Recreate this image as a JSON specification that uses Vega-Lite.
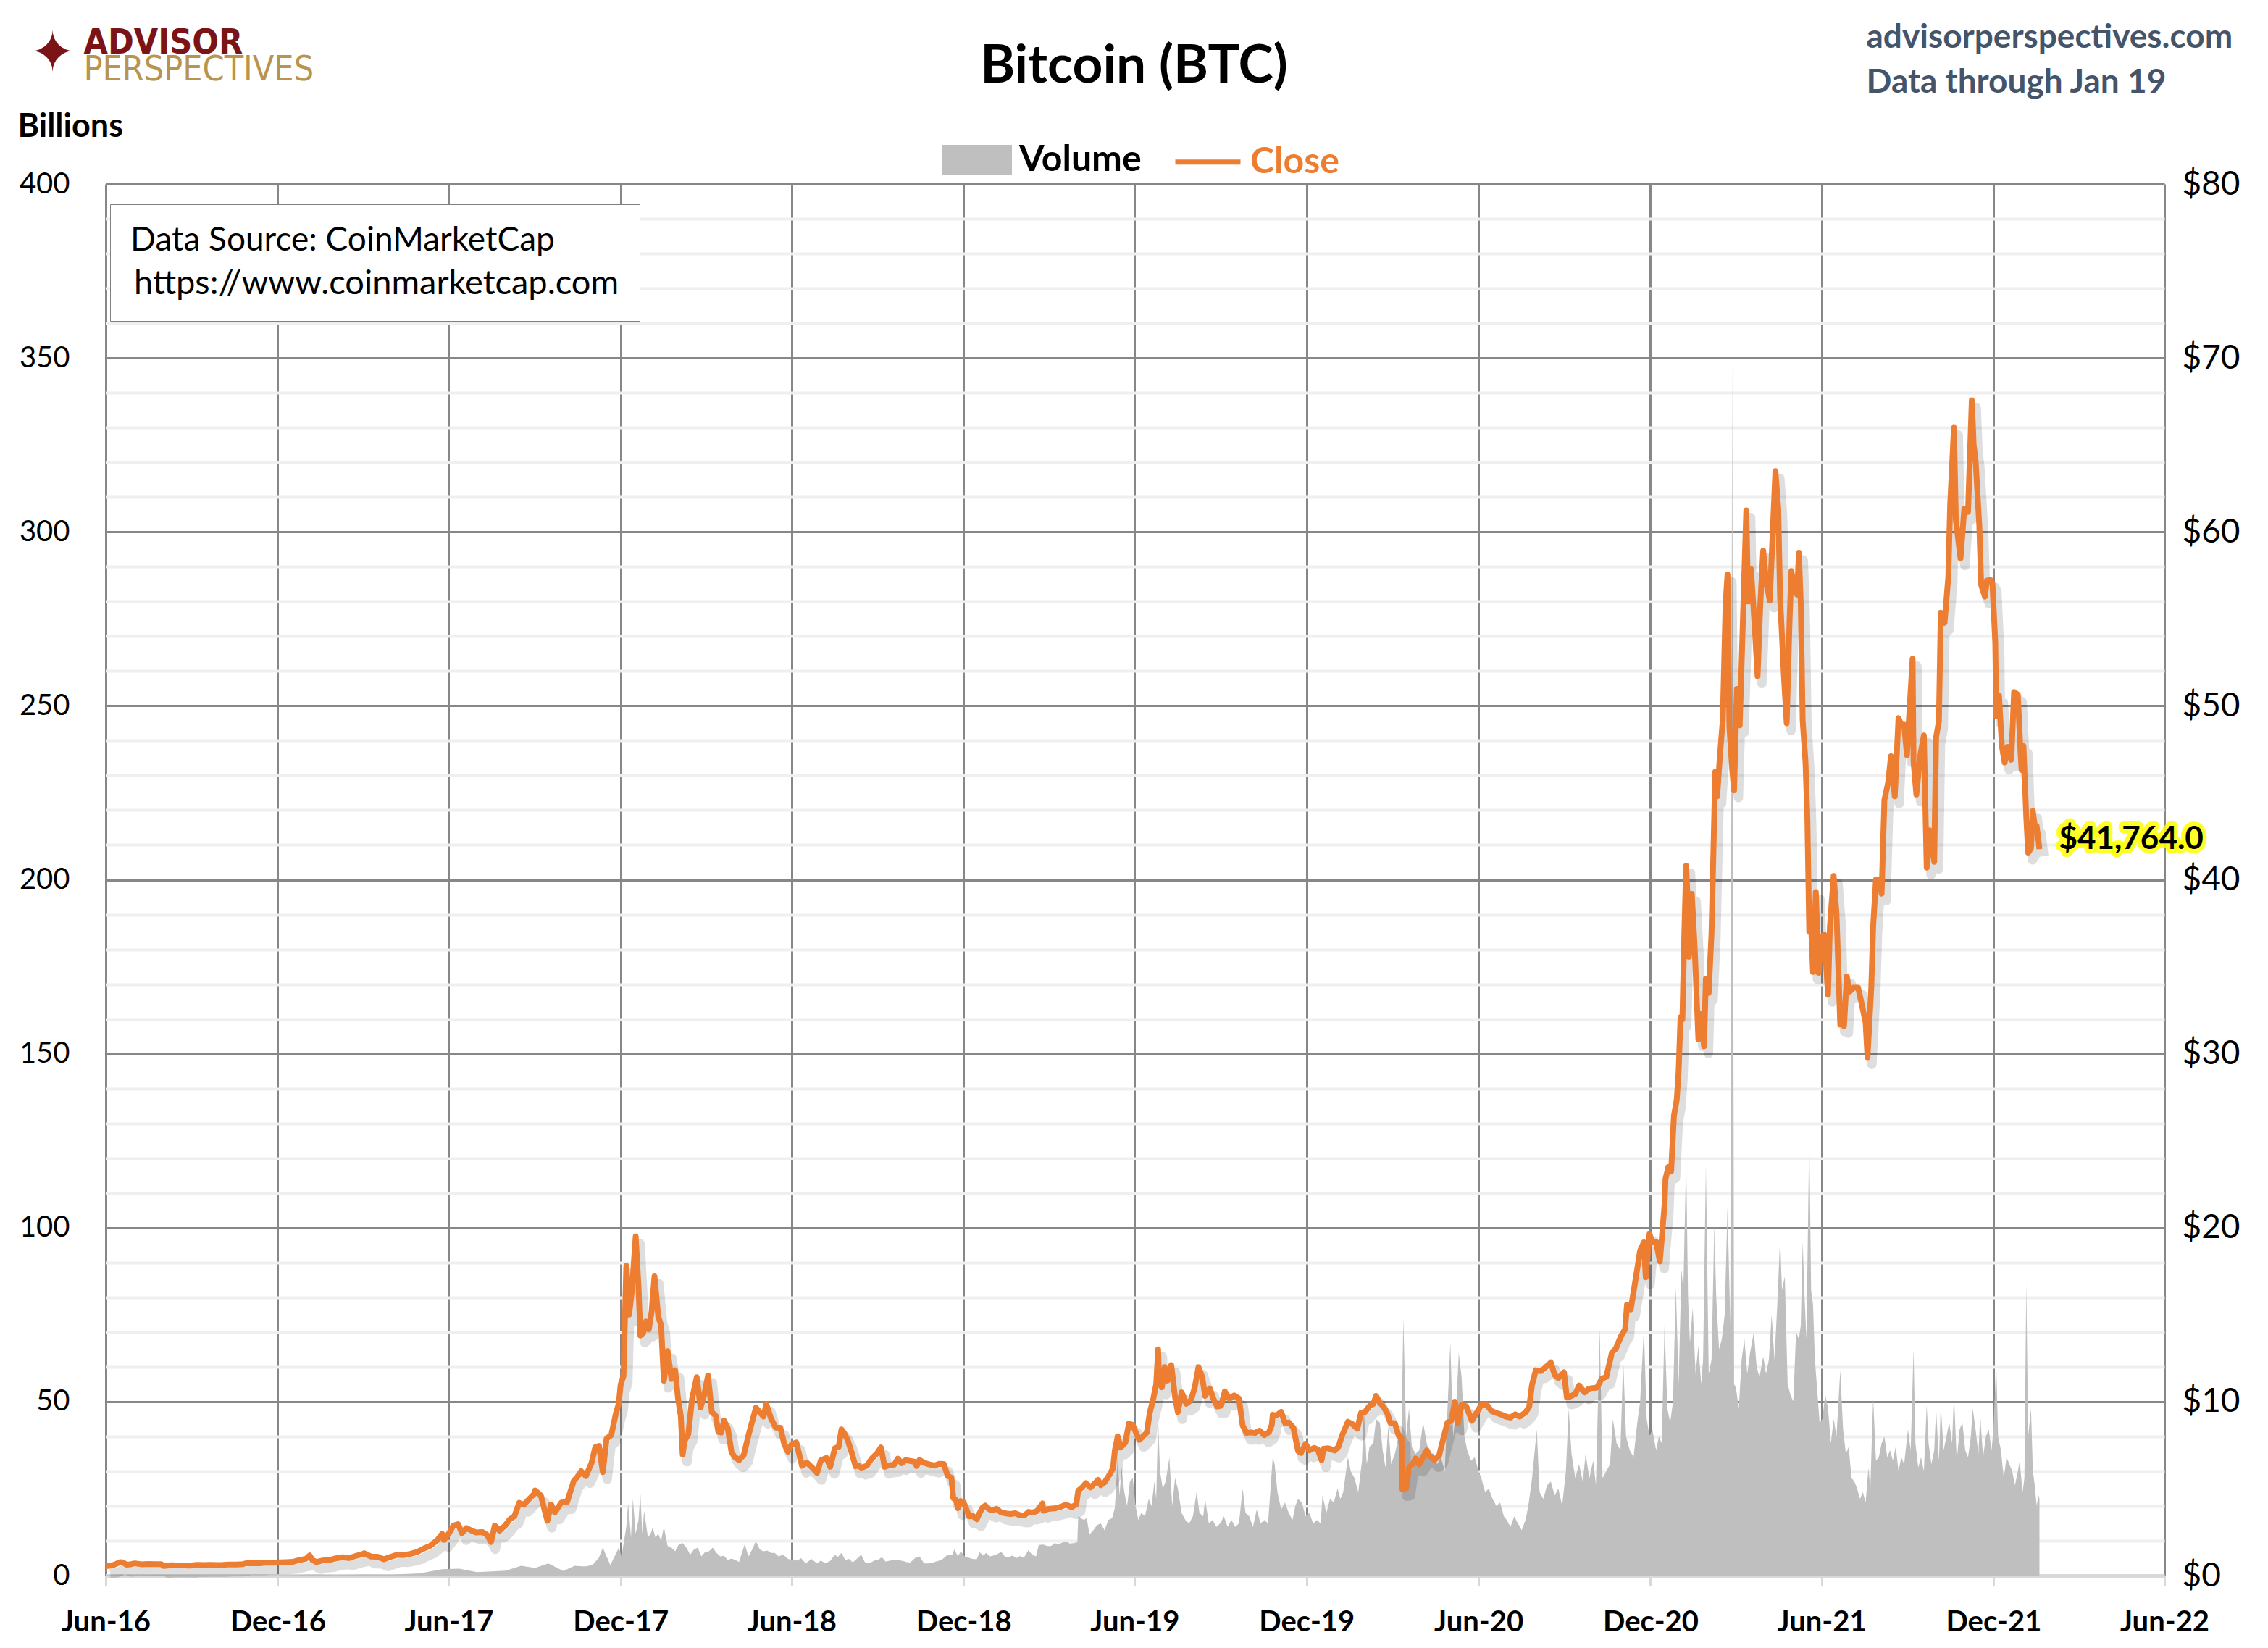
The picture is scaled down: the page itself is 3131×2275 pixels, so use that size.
{
"$schema": "https://vega.github.io/schema/vega-lite/v6.json",
"width": 2842,
"height": 1921,
"autosize": {"type": "none"},
"padding": {"left": 146, "top": 254, "right": 143, "bottom": 100},
"background": "white",
"config": {"view": {"stroke": null}, "axis": {"labelFont": "Lato", "titleFont": "Lato"}, "legend": {"labelFont": "Lato", "titleFont": "Lato"}},
"datasets": {
"close": [
{"d":"2016/06/01","c":536},{"d":"2016/06/08","c":581},{"d":"2016/06/12","c":670},{"d":"2016/06/16","c":766},{"d":"2016/06/19","c":764},{"d":"2016/06/23","c":624},{"d":"2016/06/27","c":647},{"d":"2016/07/02","c":703},{"d":"2016/07/09","c":650},{"d":"2016/07/16","c":664},{"d":"2016/07/23","c":655},{"d":"2016/07/30","c":655},{"d":"2016/08/02","c":547},{"d":"2016/08/09","c":591},{"d":"2016/08/16","c":581},{"d":"2016/08/23","c":582},{"d":"2016/08/30","c":576},{"d":"2016/09/06","c":610},{"d":"2016/09/13","c":608},{"d":"2016/09/20","c":610},{"d":"2016/09/27","c":606},{"d":"2016/10/04","c":610},{"d":"2016/10/11","c":640},{"d":"2016/10/18","c":637},{"d":"2016/10/25","c":657},{"d":"2016/10/29","c":715},{"d":"2016/11/05","c":703},{"d":"2016/11/12","c":705},{"d":"2016/11/19","c":750},{"d":"2016/11/26","c":736},{"d":"2016/12/03","c":765},{"d":"2016/12/10","c":774},{"d":"2016/12/17","c":790},{"d":"2016/12/24","c":890},{"d":"2016/12/31","c":963},
{"d":"2017/01/04","c":1154},{"d":"2017/01/07","c":895},{"d":"2017/01/11","c":778},{"d":"2017/01/18","c":868},{"d":"2017/01/25","c":894},{"d":"2017/02/01","c":989},{"d":"2017/02/08","c":1052},{"d":"2017/02/15","c":1010},{"d":"2017/02/22","c":1126},{"d":"2017/03/01","c":1222},{"d":"2017/03/03","c":1285},{"d":"2017/03/10","c":1098},{"d":"2017/03/17","c":1087},{"d":"2017/03/24","c":937},{"d":"2017/03/31","c":1071},{"d":"2017/04/07","c":1193},{"d":"2017/04/14","c":1180},{"d":"2017/04/21","c":1244},{"d":"2017/04/28","c":1345},{"d":"2017/05/05","c":1540},{"d":"2017/05/12","c":1700},{"d":"2017/05/20","c":2040},{"d":"2017/05/25","c":2400},{"d":"2017/05/27","c":2052},{"d":"2017/06/01","c":2407},{"d":"2017/06/06","c":2870},{"d":"2017/06/11","c":2958},{"d":"2017/06/15","c":2443},{"d":"2017/06/20","c":2730},{"d":"2017/06/25","c":2590},{"d":"2017/06/30","c":2480},{"d":"2017/07/07","c":2500},{"d":"2017/07/12","c":2330},{"d":"2017/07/16","c":1930},{"d":"2017/07/20","c":2870},{"d":"2017/07/25","c":2585},{"d":"2017/07/31","c":2875},{"d":"2017/08/05","c":3230},{"d":"2017/08/10","c":3420},{"d":"2017/08/15","c":4180},{"d":"2017/08/20","c":4070},{"d":"2017/08/25","c":4360},{"d":"2017/08/31","c":4700},{"d":"2017/09/01","c":4890},{"d":"2017/09/07","c":4600},{"d":"2017/09/14","c":3155},{"d":"2017/09/18","c":4090},{"d":"2017/09/22","c":3630},{"d":"2017/09/29","c":4200},{"d":"2017/10/05","c":4230},{"d":"2017/10/12","c":5430},{"d":"2017/10/16","c":5680},{"d":"2017/10/20","c":6000},{"d":"2017/10/25","c":5720},{"d":"2017/10/31","c":6470},{"d":"2017/11/04","c":7380},{"d":"2017/11/08","c":7450},{"d":"2017/11/12","c":5950},{"d":"2017/11/16","c":7870},{"d":"2017/11/21","c":8080},{"d":"2017/11/26","c":9330},{"d":"2017/11/29","c":9890},{"d":"2017/12/01","c":10980},{"d":"2017/12/04","c":11470},{"d":"2017/12/07","c":17800},{"d":"2017/12/10","c":15000},{"d":"2017/12/13","c":16400},{"d":"2017/12/17","c":19500},{"d":"2017/12/20","c":16600},{"d":"2017/12/22","c":13800},{"d":"2017/12/25","c":13950},{"d":"2017/12/28","c":14600},{"d":"2017/12/31","c":14150},
{"d":"2018/01/03","c":15200},{"d":"2018/01/06","c":17200},{"d":"2018/01/10","c":14900},{"d":"2018/01/13","c":14400},{"d":"2018/01/16","c":11200},{"d":"2018/01/20","c":12900},{"d":"2018/01/24","c":11300},{"d":"2018/01/28","c":11800},{"d":"2018/01/31","c":10200},{"d":"2018/02/03","c":9170},{"d":"2018/02/05","c":6960},{"d":"2018/02/07","c":7750},{"d":"2018/02/11","c":8130},{"d":"2018/02/15","c":10170},{"d":"2018/02/20","c":11400},{"d":"2018/02/24","c":9660},{"d":"2018/02/28","c":10400},{"d":"2018/03/04","c":11500},{"d":"2018/03/08","c":9400},{"d":"2018/03/12","c":9200},{"d":"2018/03/15","c":8250},{"d":"2018/03/18","c":8220},{"d":"2018/03/21","c":8910},{"d":"2018/03/25","c":8470},{"d":"2018/03/29","c":7100},{"d":"2018/04/01","c":6840},{"d":"2018/04/06","c":6630},{"d":"2018/04/11","c":6930},{"d":"2018/04/16","c":8060},{"d":"2018/04/20","c":8860},{"d":"2018/04/24","c":9650},{"d":"2018/04/28","c":9400},{"d":"2018/05/02","c":9140},{"d":"2018/05/05","c":9860},{"d":"2018/05/10","c":9030},{"d":"2018/05/15","c":8510},{"d":"2018/05/20","c":8500},{"d":"2018/05/24","c":7580},{"d":"2018/05/28","c":7120},{"d":"2018/06/01","c":7540},{"d":"2018/06/06","c":7650},{"d":"2018/06/12","c":6310},{"d":"2018/06/17","c":6500},{"d":"2018/06/24","c":6150},{"d":"2018/06/28","c":5900},{"d":"2018/07/02","c":6620},{"d":"2018/07/08","c":6760},{"d":"2018/07/12","c":6250},{"d":"2018/07/17","c":7320},{"d":"2018/07/21","c":7400},{"d":"2018/07/24","c":8400},{"d":"2018/07/27","c":8190},{"d":"2018/07/31","c":7730},{"d":"2018/08/04","c":7040},{"d":"2018/08/08","c":6280},{"d":"2018/08/11","c":6320},{"d":"2018/08/14","c":6200},{"d":"2018/08/20","c":6310},{"d":"2018/08/25","c":6710},{"d":"2018/08/31","c":7040},{"d":"2018/09/04","c":7360},{"d":"2018/09/08","c":6250},{"d":"2018/09/12","c":6330},{"d":"2018/09/18","c":6360},{"d":"2018/09/22","c":6720},{"d":"2018/09/26","c":6460},{"d":"2018/09/30","c":6630},{"d":"2018/10/05","c":6590},{"d":"2018/10/10","c":6540},{"d":"2018/10/12","c":6300},{"d":"2018/10/15","c":6650},{"d":"2018/10/20","c":6480},{"d":"2018/10/25","c":6400},{"d":"2018/10/31","c":6320},{"d":"2018/11/05","c":6420},{"d":"2018/11/10","c":6410},{"d":"2018/11/14","c":5740},{"d":"2018/11/18","c":5620},{"d":"2018/11/20","c":4450},{"d":"2018/11/23","c":4330},{"d":"2018/11/25","c":3880},{"d":"2018/11/28","c":4280},{"d":"2018/12/01","c":4220},{"d":"2018/12/07","c":3400},{"d":"2018/12/11","c":3420},{"d":"2018/12/15","c":3240},{"d":"2018/12/18","c":3590},{"d":"2018/12/21","c":3900},{"d":"2018/12/24","c":4020},{"d":"2018/12/28","c":3820},{"d":"2018/12/31","c":3740},
{"d":"2019/01/05","c":3840},{"d":"2019/01/10","c":3630},{"d":"2019/01/15","c":3570},{"d":"2019/01/20","c":3540},{"d":"2019/01/25","c":3580},{"d":"2019/01/30","c":3470},{"d":"2019/02/04","c":3460},{"d":"2019/02/08","c":3660},{"d":"2019/02/12","c":3620},{"d":"2019/02/17","c":3700},{"d":"2019/02/23","c":4140},{"d":"2019/02/24","c":3730},{"d":"2019/03/01","c":3830},{"d":"2019/03/08","c":3860},{"d":"2019/03/15","c":3960},{"d":"2019/03/20","c":4080},{"d":"2019/03/26","c":3930},{"d":"2019/03/31","c":4100},{"d":"2019/04/02","c":4880},{"d":"2019/04/06","c":5060},{"d":"2019/04/10","c":5310},{"d":"2019/04/15","c":5070},{"d":"2019/04/20","c":5310},{"d":"2019/04/23","c":5500},{"d":"2019/04/26","c":5200},{"d":"2019/04/30","c":5350},{"d":"2019/05/05","c":5770},{"d":"2019/05/09","c":6170},{"d":"2019/05/11","c":7200},{"d":"2019/05/14","c":8000},{"d":"2019/05/17","c":7360},{"d":"2019/05/22","c":7630},{"d":"2019/05/26","c":8730},{"d":"2019/05/30","c":8660},{"d":"2019/06/03","c":8140},{"d":"2019/06/06","c":7800},{"d":"2019/06/10","c":8000},{"d":"2019/06/14","c":8230},{"d":"2019/06/17","c":9330},{"d":"2019/06/21","c":10210},{"d":"2019/06/24","c":11000},{"d":"2019/06/26","c":13000},{"d":"2019/06/27","c":11200},{"d":"2019/06/30","c":10820},{"d":"2019/07/03","c":11980},{"d":"2019/07/06","c":11210},{"d":"2019/07/10","c":12100},{"d":"2019/07/14","c":10260},{"d":"2019/07/17","c":9400},{"d":"2019/07/21","c":10530},{"d":"2019/07/26","c":9880},{"d":"2019/07/31","c":10080},{"d":"2019/08/04","c":10820},{"d":"2019/08/08","c":11980},{"d":"2019/08/12","c":11390},{"d":"2019/08/15","c":10330},{"d":"2019/08/20","c":10760},{"d":"2019/08/24","c":10140},{"d":"2019/08/28","c":9720},{"d":"2019/09/01","c":9760},{"d":"2019/09/05","c":10580},{"d":"2019/09/10","c":10160},{"d":"2019/09/15","c":10360},{"d":"2019/09/20","c":10180},{"d":"2019/09/24","c":8620},{"d":"2019/09/28","c":8200},{"d":"2019/10/03","c":8230},{"d":"2019/10/07","c":8200},{"d":"2019/10/12","c":8330},{"d":"2019/10/17","c":8070},{"d":"2019/10/22","c":8240},{"d":"2019/10/25","c":8660},{"d":"2019/10/26","c":9240},{"d":"2019/10/30","c":9210},{"d":"2019/11/04","c":9410},{"d":"2019/11/08","c":8770},{"d":"2019/11/12","c":8800},{"d":"2019/11/17","c":8500},{"d":"2019/11/22","c":7150},{"d":"2019/11/25","c":7050},{"d":"2019/11/30","c":7570},{"d":"2019/12/04","c":7200},{"d":"2019/12/09","c":7340},{"d":"2019/12/13","c":7240},{"d":"2019/12/17","c":6640},{"d":"2019/12/19","c":7290},{"d":"2019/12/24","c":7320},{"d":"2019/12/31","c":7190},
{"d":"2020/01/04","c":7410},{"d":"2020/01/08","c":8080},{"d":"2020/01/14","c":8840},{"d":"2020/01/19","c":8700},{"d":"2020/01/24","c":8440},{"d":"2020/01/28","c":9360},{"d":"2020/02/01","c":9390},{"d":"2020/02/06","c":9750},{"d":"2020/02/10","c":9860},{"d":"2020/02/13","c":10330},{"d":"2020/02/17","c":9930},{"d":"2020/02/21","c":9700},{"d":"2020/02/25","c":9320},{"d":"2020/02/28","c":8790},{"d":"2020/03/04","c":8760},{"d":"2020/03/08","c":8040},{"d":"2020/03/11","c":7930},{"d":"2020/03/12","c":4970},{"d":"2020/03/16","c":5010},{"d":"2020/03/19","c":6190},{"d":"2020/03/23","c":6420},{"d":"2020/03/26","c":6730},{"d":"2020/03/30","c":6400},{"d":"2020/04/03","c":6800},{"d":"2020/04/07","c":7200},{"d":"2020/04/10","c":6870},{"d":"2020/04/15","c":6640},{"d":"2020/04/20","c":6880},{"d":"2020/04/23","c":7550},{"d":"2020/04/29","c":8800},{"d":"2020/05/03","c":8900},{"d":"2020/05/07","c":9990},{"d":"2020/05/10","c":8750},{"d":"2020/05/14","c":9800},{"d":"2020/05/19","c":9730},{"d":"2020/05/25","c":8900},{"d":"2020/05/31","c":9450},{"d":"2020/06/04","c":9800},{"d":"2020/06/10","c":9800},{"d":"2020/06/15","c":9450},{"d":"2020/06/20","c":9350},{"d":"2020/06/25","c":9260},{"d":"2020/06/30","c":9140},{"d":"2020/07/05","c":9080},{"d":"2020/07/10","c":9270},{"d":"2020/07/15","c":9140},{"d":"2020/07/21","c":9380},{"d":"2020/07/25","c":9710},{"d":"2020/07/28","c":10990},{"d":"2020/08/01","c":11800},{"d":"2020/08/06","c":11750},{"d":"2020/08/10","c":11900},{"d":"2020/08/17","c":12250},{"d":"2020/08/21","c":11540},{"d":"2020/08/25","c":11350},{"d":"2020/08/31","c":11680},{"d":"2020/09/03","c":10240},{"d":"2020/09/06","c":10280},{"d":"2020/09/12","c":10440},{"d":"2020/09/16","c":10930},{"d":"2020/09/22","c":10530},{"d":"2020/09/26","c":10730},{"d":"2020/09/30","c":10780},{"d":"2020/10/05","c":10800},{"d":"2020/10/10","c":11300},{"d":"2020/10/15","c":11430},{"d":"2020/10/21","c":12820},{"d":"2020/10/25","c":13030},{"d":"2020/10/31","c":13800},{"d":"2020/11/04","c":14150},{"d":"2020/11/06","c":15560},{"d":"2020/11/10","c":15300},{"d":"2020/11/13","c":16300},{"d":"2020/11/17","c":17650},{"d":"2020/11/20","c":18680},{"d":"2020/11/24","c":19160},{"d":"2020/11/26","c":17150},{"d":"2020/11/30","c":19630},{"d":"2020/12/03","c":19200},{"d":"2020/12/07","c":19190},{"d":"2020/12/11","c":18060},{"d":"2020/12/16","c":21300},{"d":"2020/12/17","c":22800},{"d":"2020/12/20","c":23480},{"d":"2020/12/23","c":23240},{"d":"2020/12/26","c":26440},{"d":"2020/12/29","c":27360},{"d":"2020/12/31","c":29000},
{"d":"2021/01/02","c":32100},{"d":"2021/01/04","c":31970},{"d":"2021/01/06","c":36800},{"d":"2021/01/08","c":40800},{"d":"2021/01/10","c":38350},{"d":"2021/01/11","c":35570},{"d":"2021/01/14","c":39190},{"d":"2021/01/17","c":36180},{"d":"2021/01/21","c":30830},{"d":"2021/01/24","c":32290},{"d":"2021/01/27","c":30430},{"d":"2021/01/29","c":34320},{"d":"2021/02/01","c":33500},{"d":"2021/02/04","c":36950},{"d":"2021/02/08","c":46200},{"d":"2021/02/10","c":44800},{"d":"2021/02/13","c":47170},{"d":"2021/02/16","c":49200},{"d":"2021/02/19","c":55900},{"d":"2021/02/21","c":57540},{"d":"2021/02/23","c":48820},{"d":"2021/02/26","c":46340},{"d":"2021/02/28","c":45140},{"d":"2021/03/03","c":50970},{"d":"2021/03/06","c":48880},{"d":"2021/03/10","c":55960},{"d":"2021/03/13","c":61240},{"d":"2021/03/15","c":56000},{"d":"2021/03/18","c":57860},{"d":"2021/03/22","c":54520},{"d":"2021/03/25","c":51700},{"d":"2021/03/28","c":55950},{"d":"2021/03/31","c":58920},{"d":"2021/04/03","c":57190},{"d":"2021/04/07","c":56050},{"d":"2021/04/10","c":59790},{"d":"2021/04/13","c":63500},{"d":"2021/04/16","c":61340},{"d":"2021/04/18","c":56220},{"d":"2021/04/22","c":51760},{"d":"2021/04/25","c":49000},{"d":"2021/04/28","c":54800},{"d":"2021/04/30","c":57750},{"d":"2021/05/03","c":56620},{"d":"2021/05/06","c":56400},{"d":"2021/05/08","c":58800},{"d":"2021/05/10","c":55840},{"d":"2021/05/12","c":49150},{"d":"2021/05/15","c":46800},{"d":"2021/05/17","c":43540},{"d":"2021/05/19","c":37000},{"d":"2021/05/21","c":37300},{"d":"2021/05/23","c":34700},{"d":"2021/05/26","c":39290},{"d":"2021/05/29","c":34650},{"d":"2021/06/01","c":36700},{"d":"2021/06/04","c":36850},{"d":"2021/06/08","c":33390},{"d":"2021/06/10","c":37340},{"d":"2021/06/14","c":40220},{"d":"2021/06/17","c":38050},{"d":"2021/06/21","c":31680},{"d":"2021/06/22","c":32500},{"d":"2021/06/25","c":31600},{"d":"2021/06/28","c":34440},{"d":"2021/07/01","c":33570},{"d":"2021/07/05","c":33800},{"d":"2021/07/10","c":33800},{"d":"2021/07/14","c":32820},{"d":"2021/07/18","c":31780},{"d":"2021/07/20","c":29800},{"d":"2021/07/24","c":33790},{"d":"2021/07/26","c":37300},{"d":"2021/07/29","c":40010},{"d":"2021/08/01","c":39970},{"d":"2021/08/04","c":39200},{"d":"2021/08/07","c":44600},{"d":"2021/08/11","c":45600},{"d":"2021/08/14","c":47100},{"d":"2021/08/18","c":44800},{"d":"2021/08/22","c":49300},{"d":"2021/08/25","c":48900},{"d":"2021/08/28","c":48900},{"d":"2021/08/31","c":47170},{"d":"2021/09/03","c":50050},{"d":"2021/09/06","c":52700},{"d":"2021/09/07","c":46810},{"d":"2021/09/10","c":44900},{"d":"2021/09/14","c":47100},{"d":"2021/09/18","c":48300},{"d":"2021/09/21","c":40700},{"d":"2021/09/24","c":42840},{"d":"2021/09/29","c":41030},{"d":"2021/10/01","c":48200},{"d":"2021/10/04","c":49110},{"d":"2021/10/06","c":55360},{"d":"2021/10/10","c":54770},{"d":"2021/10/14","c":57400},{"d":"2021/10/16","c":61600},{"d":"2021/10/20","c":65990},{"d":"2021/10/22","c":60700},{"d":"2021/10/27","c":58480},{"d":"2021/10/31","c":61320},{"d":"2021/11/04","c":61150},{"d":"2021/11/08","c":67570},{"d":"2021/11/10","c":64990},{"d":"2021/11/12","c":64150},{"d":"2021/11/16","c":60360},{"d":"2021/11/18","c":56940},{"d":"2021/11/22","c":56280},{"d":"2021/11/24","c":57200},{"d":"2021/11/28","c":57230},{"d":"2021/11/30","c":57010},{"d":"2021/12/03","c":53600},{"d":"2021/12/04","c":49400},{"d":"2021/12/07","c":50580},{"d":"2021/12/10","c":47680},{"d":"2021/12/13","c":46740},{"d":"2021/12/16","c":47640},{"d":"2021/12/20","c":46900},{"d":"2021/12/23","c":50800},{"d":"2021/12/27","c":50640},{"d":"2021/12/30","c":47180},{"d":"2021/12/31","c":46310},
{"d":"2022/01/02","c":47690},{"d":"2022/01/05","c":43570},{"d":"2022/01/07","c":41560},{"d":"2022/01/10","c":41820},{"d":"2022/01/12","c":43950},{"d":"2022/01/14","c":43100},{"d":"2022/01/16","c":43090},{"d":"2022/01/18","c":42250},{"d":"2022/01/19","c":41764}
],
"vol": [
{"d":"2016/06/01","v":0.1},{"d":"2016/06/17","v":0.3},{"d":"2016/07/01","v":0.12},{"d":"2016/08/02","v":0.15},{"d":"2016/09/01","v":0.08},{"d":"2016/10/01","v":0.07},{"d":"2016/11/01","v":0.1},{"d":"2016/12/01","v":0.1},{"d":"2016/12/20","v":0.15},{"d":"2017/01/05","v":0.3},{"d":"2017/02/01","v":0.15},{"d":"2017/03/03","v":0.3},{"d":"2017/04/01","v":0.25},{"d":"2017/05/01","v":0.6},{"d":"2017/05/25","v":1.8},{"d":"2017/06/12","v":2.0},{"d":"2017/07/01","v":1.0},{"d":"2017/07/17","v":1.2},{"d":"2017/08/01","v":1.4},{"d":"2017/08/17","v":2.8},{"d":"2017/09/01","v":2.2},{"d":"2017/09/15","v":3.5},{"d":"2017/10/01","v":1.3},{"d":"2017/10/13","v":2.8},{"d":"2017/10/24","v":2.6},{"d":"2017/11/01","v":3.0},{"d":"2017/11/08","v":5.2},{"d":"2017/11/12","v":8.0},{"d":"2017/11/20","v":3.0},{"d":"2017/11/29","v":8.0},{"d":"2017/12/02","v":5.5},{"d":"2017/12/07","v":14},{"d":"2017/12/09","v":20.7},{"d":"2017/12/12","v":11},{"d":"2017/12/14","v":22},{"d":"2017/12/17","v":12},{"d":"2017/12/20","v":16},{"d":"2017/12/22","v":23.7},{"d":"2017/12/24","v":12},{"d":"2017/12/26","v":18.6},{"d":"2017/12/30","v":11},
{"d":"2018/01/02","v":12},{"d":"2018/01/04","v":13.8},{"d":"2018/01/07","v":11},{"d":"2018/01/10","v":12},{"d":"2018/01/13","v":10},{"d":"2018/01/16","v":14},{"d":"2018/01/20","v":8.5},{"d":"2018/01/24","v":8},{"d":"2018/01/28","v":7},{"d":"2018/02/01","v":9},{"d":"2018/02/05","v":9.3},{"d":"2018/02/09","v":8},{"d":"2018/02/13","v":6},{"d":"2018/02/17","v":7.5},{"d":"2018/02/21","v":8},{"d":"2018/02/25","v":5.5},{"d":"2018/03/01","v":6.8},{"d":"2018/03/05","v":7.0},{"d":"2018/03/09","v":8},{"d":"2018/03/13","v":6.5},{"d":"2018/03/17","v":5.5},{"d":"2018/03/21","v":5.7},{"d":"2018/03/25","v":4.5},{"d":"2018/03/29","v":4.9},{"d":"2018/04/02","v":4.5},{"d":"2018/04/06","v":3.9},{"d":"2018/04/12","v":9.0},{"d":"2018/04/16","v":5.5},{"d":"2018/04/20","v":7.5},{"d":"2018/04/24","v":9.9},{"d":"2018/04/28","v":7.5},{"d":"2018/05/02","v":7},{"d":"2018/05/06","v":7.2},{"d":"2018/05/10","v":6.5},{"d":"2018/05/14","v":6.5},{"d":"2018/05/18","v":5.5},{"d":"2018/05/23","v":6},{"d":"2018/05/28","v":4.8},{"d":"2018/06/02","v":4.5},{"d":"2018/06/07","v":4.3},{"d":"2018/06/11","v":5.0},{"d":"2018/06/16","v":3.5},{"d":"2018/06/22","v":4.8},{"d":"2018/06/28","v":3.5},{"d":"2018/07/02","v":4.3},{"d":"2018/07/07","v":3.5},{"d":"2018/07/12","v":4.2},{"d":"2018/07/17","v":6},{"d":"2018/07/20","v":5.3},{"d":"2018/07/24","v":6.5},{"d":"2018/07/28","v":4.5},{"d":"2018/08/01","v":4.8},{"d":"2018/08/05","v":3.8},{"d":"2018/08/08","v":4.5},{"d":"2018/08/14","v":6},{"d":"2018/08/18","v":3.8},{"d":"2018/08/23","v":3.6},{"d":"2018/08/28","v":4.3},{"d":"2018/09/01","v":4.5},{"d":"2018/09/05","v":5.3},{"d":"2018/09/09","v":4},{"d":"2018/09/14","v":4.3},{"d":"2018/09/19","v":4.4},{"d":"2018/09/22","v":4.5},{"d":"2018/09/27","v":4.2},{"d":"2018/10/01","v":3.9},{"d":"2018/10/05","v":3.7},{"d":"2018/10/11","v":5.2},{"d":"2018/10/15","v":5.5},{"d":"2018/10/20","v":3.5},{"d":"2018/10/25","v":3.5},{"d":"2018/10/30","v":3.8},{"d":"2018/11/04","v":4.2},{"d":"2018/11/08","v":4.6},{"d":"2018/11/14","v":6},{"d":"2018/11/19","v":6.0},{"d":"2018/11/21","v":7.5},{"d":"2018/11/25","v":5.5},{"d":"2018/11/28","v":7.0},{"d":"2018/12/02","v":5.5},{"d":"2018/12/06","v":5.2},{"d":"2018/12/10","v":4.8},{"d":"2018/12/15","v":4.7},{"d":"2018/12/18","v":6.7},{"d":"2018/12/22","v":5.8},{"d":"2018/12/25","v":6.5},{"d":"2018/12/29","v":5.5},
{"d":"2019/01/02","v":5.8},{"d":"2019/01/06","v":6.2},{"d":"2019/01/10","v":6.8},{"d":"2019/01/14","v":5.4},{"d":"2019/01/18","v":5.2},{"d":"2019/01/22","v":5.8},{"d":"2019/01/26","v":5.0},{"d":"2019/01/30","v":5.6},{"d":"2019/02/03","v":5.1},{"d":"2019/02/08","v":7.3},{"d":"2019/02/12","v":6.0},{"d":"2019/02/16","v":5.5},{"d":"2019/02/19","v":8.8},{"d":"2019/02/24","v":8.9},{"d":"2019/02/28","v":8.5},{"d":"2019/03/04","v":8.5},{"d":"2019/03/08","v":9.3},{"d":"2019/03/12","v":9.0},{"d":"2019/03/16","v":9.5},{"d":"2019/03/20","v":9.8},{"d":"2019/03/24","v":9.2},{"d":"2019/03/28","v":9.3},{"d":"2019/04/01","v":9.6},{"d":"2019/04/02","v":17},{"d":"2019/04/05","v":16.5},{"d":"2019/04/08","v":16},{"d":"2019/04/11","v":16.5},{"d":"2019/04/14","v":11.8},{"d":"2019/04/18","v":13},{"d":"2019/04/22","v":14.5},{"d":"2019/04/26","v":15},{"d":"2019/04/30","v":13},{"d":"2019/05/04","v":16},{"d":"2019/05/08","v":16.5},{"d":"2019/05/11","v":19.5},{"d":"2019/05/14","v":34},{"d":"2019/05/16","v":23},{"d":"2019/05/18","v":31},{"d":"2019/05/21","v":24},{"d":"2019/05/24","v":20},{"d":"2019/05/27","v":27},{"d":"2019/05/30","v":28},{"d":"2019/06/02","v":20},{"d":"2019/06/05","v":16},{"d":"2019/06/08","v":18},{"d":"2019/06/12","v":17},{"d":"2019/06/16","v":22},{"d":"2019/06/19","v":20},{"d":"2019/06/22","v":27},{"d":"2019/06/24","v":22},{"d":"2019/06/26","v":45},{"d":"2019/06/28","v":30},{"d":"2019/07/01","v":25},{"d":"2019/07/04","v":27},{"d":"2019/07/08","v":34},{"d":"2019/07/11","v":20},{"d":"2019/07/14","v":28},{"d":"2019/07/17","v":25},{"d":"2019/07/21","v":18},{"d":"2019/07/25","v":16},{"d":"2019/07/29","v":15},{"d":"2019/08/02","v":17},{"d":"2019/08/06","v":24},{"d":"2019/08/09","v":18},{"d":"2019/08/13","v":17},{"d":"2019/08/15","v":22},{"d":"2019/08/19","v":15},{"d":"2019/08/23","v":16},{"d":"2019/08/27","v":14},{"d":"2019/08/31","v":15},{"d":"2019/09/04","v":17},{"d":"2019/09/08","v":14},{"d":"2019/09/12","v":16},{"d":"2019/09/16","v":14},{"d":"2019/09/20","v":15},{"d":"2019/09/24","v":25},{"d":"2019/09/27","v":18},{"d":"2019/10/01","v":17},{"d":"2019/10/05","v":14},{"d":"2019/10/09","v":19},{"d":"2019/10/13","v":15},{"d":"2019/10/17","v":16},{"d":"2019/10/21","v":15},{"d":"2019/10/26","v":34},{"d":"2019/10/28","v":32},{"d":"2019/10/31","v":24},{"d":"2019/11/04","v":19},{"d":"2019/11/08","v":21},{"d":"2019/11/12","v":18},{"d":"2019/11/16","v":16},{"d":"2019/11/19","v":20},{"d":"2019/11/22","v":22},{"d":"2019/11/26","v":21},{"d":"2019/11/30","v":17},{"d":"2019/12/04","v":18},{"d":"2019/12/08","v":15},{"d":"2019/12/12","v":16},{"d":"2019/12/16","v":15},{"d":"2019/12/18","v":23},{"d":"2019/12/22","v":18},{"d":"2019/12/26","v":22},{"d":"2019/12/30","v":21},
{"d":"2020/01/03","v":25},{"d":"2020/01/06","v":22},{"d":"2020/01/09","v":24},{"d":"2020/01/14","v":34},{"d":"2020/01/17","v":30},{"d":"2020/01/21","v":28},{"d":"2020/01/25","v":24},{"d":"2020/01/29","v":33},{"d":"2020/01/31","v":48},{"d":"2020/02/03","v":32},{"d":"2020/02/06","v":37},{"d":"2020/02/10","v":38},{"d":"2020/02/13","v":45},{"d":"2020/02/17","v":44},{"d":"2020/02/20","v":36},{"d":"2020/02/23","v":31},{"d":"2020/02/26","v":43},{"d":"2020/02/29","v":32},{"d":"2020/03/04","v":35},{"d":"2020/03/08","v":40},{"d":"2020/03/11","v":41},{"d":"2020/03/13","v":74},{"d":"2020/03/16","v":40},{"d":"2020/03/19","v":48},{"d":"2020/03/22","v":37},{"d":"2020/03/26","v":35},{"d":"2020/03/30","v":36},{"d":"2020/04/03","v":44},{"d":"2020/04/07","v":38},{"d":"2020/04/10","v":35},{"d":"2020/04/14","v":35},{"d":"2020/04/18","v":32},{"d":"2020/04/22","v":34},{"d":"2020/04/26","v":30},{"d":"2020/04/29","v":48},{"d":"2020/05/02","v":67},{"d":"2020/05/05","v":40},{"d":"2020/05/08","v":47},{"d":"2020/05/11","v":64},{"d":"2020/05/14","v":57},{"d":"2020/05/17","v":40},{"d":"2020/05/20","v":36},{"d":"2020/05/24","v":33},{"d":"2020/05/28","v":34},{"d":"2020/06/01","v":30},{"d":"2020/06/04","v":28},{"d":"2020/06/08","v":24},{"d":"2020/06/12","v":25},{"d":"2020/06/16","v":22},{"d":"2020/06/20","v":20},{"d":"2020/06/24","v":21},{"d":"2020/06/28","v":17},{"d":"2020/07/01","v":16},{"d":"2020/07/05","v":14},{"d":"2020/07/09","v":17},{"d":"2020/07/13","v":15},{"d":"2020/07/17","v":13},{"d":"2020/07/21","v":16},{"d":"2020/07/24","v":20},{"d":"2020/07/28","v":28},{"d":"2020/08/02","v":42},{"d":"2020/08/05","v":24},{"d":"2020/08/09","v":22},{"d":"2020/08/13","v":26},{"d":"2020/08/17","v":27},{"d":"2020/08/21","v":23},{"d":"2020/08/25","v":25},{"d":"2020/08/29","v":20},{"d":"2020/09/02","v":30},{"d":"2020/09/05","v":48},{"d":"2020/09/08","v":35},{"d":"2020/09/12","v":28},{"d":"2020/09/16","v":32},{"d":"2020/09/20","v":27},{"d":"2020/09/23","v":35},{"d":"2020/09/27","v":28},{"d":"2020/10/01","v":33},{"d":"2020/10/04","v":26},{"d":"2020/10/08","v":71},{"d":"2020/10/11","v":28},{"d":"2020/10/15","v":30},{"d":"2020/10/19","v":32},{"d":"2020/10/22","v":45},{"d":"2020/10/26","v":38},{"d":"2020/10/30","v":36},{"d":"2020/11/02","v":62},{"d":"2020/11/05","v":40},{"d":"2020/11/09","v":36},{"d":"2020/11/13","v":34},{"d":"2020/11/17","v":44},{"d":"2020/11/20","v":50},{"d":"2020/11/24","v":71},{"d":"2020/11/27","v":45},{"d":"2020/11/30","v":40},{"d":"2020/12/03","v":42},{"d":"2020/12/07","v":36},{"d":"2020/12/10","v":40},{"d":"2020/12/13","v":38},{"d":"2020/12/16","v":72},{"d":"2020/12/19","v":48},{"d":"2020/12/22","v":44},{"d":"2020/12/25","v":50},{"d":"2020/12/28","v":83},{"d":"2020/12/31","v":55},
{"d":"2021/01/03","v":88},{"d":"2021/01/05","v":82},{"d":"2021/01/08","v":120},{"d":"2021/01/10","v":80},{"d":"2021/01/12","v":67},{"d":"2021/01/15","v":77},{"d":"2021/01/18","v":58},{"d":"2021/01/21","v":66},{"d":"2021/01/24","v":55},{"d":"2021/01/26","v":62},{"d":"2021/01/29","v":118},{"d":"2021/02/01","v":58},{"d":"2021/02/04","v":62},{"d":"2021/02/07","v":101},{"d":"2021/02/09","v":80},{"d":"2021/02/12","v":65},{"d":"2021/02/15","v":68},{"d":"2021/02/18","v":75},{"d":"2021/02/21","v":106},{"d":"2021/02/24","v":72},{"d":"2021/02/26","v":350},{"d":"2021/02/28","v":55},{"d":"2021/03/02","v":54},{"d":"2021/03/05","v":48},{"d":"2021/03/08","v":62},{"d":"2021/03/11","v":68},{"d":"2021/03/14","v":58},{"d":"2021/03/17","v":64},{"d":"2021/03/21","v":70},{"d":"2021/03/24","v":60},{"d":"2021/03/27","v":57},{"d":"2021/03/31","v":63},{"d":"2021/04/03","v":58},{"d":"2021/04/06","v":62},{"d":"2021/04/09","v":75},{"d":"2021/04/12","v":62},{"d":"2021/04/15","v":78},{"d":"2021/04/18","v":97},{"d":"2021/04/20","v":82},{"d":"2021/04/23","v":86},{"d":"2021/04/26","v":55},{"d":"2021/04/29","v":52},{"d":"2021/05/02","v":50},{"d":"2021/05/05","v":70},{"d":"2021/05/08","v":68},{"d":"2021/05/10","v":72},{"d":"2021/05/12","v":96},{"d":"2021/05/14","v":80},{"d":"2021/05/16","v":68},{"d":"2021/05/19","v":127},{"d":"2021/05/21","v":82},{"d":"2021/05/23","v":78},{"d":"2021/05/25","v":62},{"d":"2021/05/27","v":55},{"d":"2021/05/30","v":44},{"d":"2021/06/02","v":45},{"d":"2021/06/05","v":52},{"d":"2021/06/08","v":48},{"d":"2021/06/11","v":38},{"d":"2021/06/14","v":45},{"d":"2021/06/17","v":40},{"d":"2021/06/21","v":59},{"d":"2021/06/24","v":42},{"d":"2021/06/27","v":35},{"d":"2021/06/30","v":37},{"d":"2021/07/03","v":28},{"d":"2021/07/06","v":27},{"d":"2021/07/09","v":25},{"d":"2021/07/12","v":22},{"d":"2021/07/15","v":24},{"d":"2021/07/18","v":21},{"d":"2021/07/21","v":31},{"d":"2021/07/23","v":25},{"d":"2021/07/26","v":51},{"d":"2021/07/29","v":33},{"d":"2021/08/01","v":34},{"d":"2021/08/04","v":38},{"d":"2021/08/07","v":40},{"d":"2021/08/10","v":34},{"d":"2021/08/13","v":36},{"d":"2021/08/16","v":33},{"d":"2021/08/19","v":37},{"d":"2021/08/22","v":30},{"d":"2021/08/25","v":34},{"d":"2021/08/28","v":32},{"d":"2021/09/01","v":42},{"d":"2021/09/04","v":36},{"d":"2021/09/07","v":65},{"d":"2021/09/09","v":38},{"d":"2021/09/12","v":31},{"d":"2021/09/15","v":34},{"d":"2021/09/18","v":30},{"d":"2021/09/21","v":49},{"d":"2021/09/23","v":38},{"d":"2021/09/26","v":32},{"d":"2021/09/29","v":36},{"d":"2021/10/01","v":48},{"d":"2021/10/04","v":33},{"d":"2021/10/06","v":49},{"d":"2021/10/09","v":36},{"d":"2021/10/12","v":40},{"d":"2021/10/15","v":44},{"d":"2021/10/18","v":38},{"d":"2021/10/20","v":52},{"d":"2021/10/23","v":33},{"d":"2021/10/26","v":42},{"d":"2021/10/29","v":44},{"d":"2021/11/01","v":36},{"d":"2021/11/04","v":34},{"d":"2021/11/07","v":40},{"d":"2021/11/09","v":48},{"d":"2021/11/12","v":42},{"d":"2021/11/15","v":35},{"d":"2021/11/17","v":46},{"d":"2021/11/20","v":34},{"d":"2021/11/23","v":40},{"d":"2021/11/26","v":42},{"d":"2021/11/29","v":36},{"d":"2021/12/01","v":42},{"d":"2021/12/04","v":61},{"d":"2021/12/06","v":40},{"d":"2021/12/09","v":36},{"d":"2021/12/12","v":28},{"d":"2021/12/15","v":34},{"d":"2021/12/18","v":32},{"d":"2021/12/21","v":30},{"d":"2021/12/24","v":26},{"d":"2021/12/27","v":30},{"d":"2021/12/29","v":33},
{"d":"2022/01/01","v":24},{"d":"2022/01/03","v":28},{"d":"2022/01/05","v":84},{"d":"2022/01/07","v":40},{"d":"2022/01/10","v":48},{"d":"2022/01/12","v":30},{"d":"2022/01/14","v":26},{"d":"2022/01/16","v":20},{"d":"2022/01/18","v":23},{"d":"2022/01/19","v":22}
]
},
"encoding": {
"x": {"field": "d", "type": "temporal",
 "scale": {"domain": [{"year": 2016, "month": 6, "date": 1}, {"year": 2022, "month": 6, "date": 1}], "nice": false},
 "axis": {
  "values": [{"year":2016,"month":6,"date":1},{"year":2016,"month":12,"date":1},{"year":2017,"month":6,"date":1},{"year":2017,"month":12,"date":1},{"year":2018,"month":6,"date":1},{"year":2018,"month":12,"date":1},{"year":2019,"month":6,"date":1},{"year":2019,"month":12,"date":1},{"year":2020,"month":6,"date":1},{"year":2020,"month":12,"date":1},{"year":2021,"month":6,"date":1},{"year":2021,"month":12,"date":1},{"year":2022,"month":6,"date":1}],
  "format": "%b-%y", "labelFont": "Lato", "labelFontSize": 40, "labelFontWeight": "bold", "labelColor": "#000000",
  "labelFlush": false, "labelOverlap": false, "labelBound": false, "labelPadding": 30,
  "grid": true, "gridColor": "#878787", "gridWidth": 3,
  "ticks": true, "tickColor": "#D9D9D9", "tickWidth": 3, "tickSize": 14,
  "domain": true, "domainColor": "#D9D9D9", "domainWidth": 5,
  "title": "Bitcoin (BTC)", "titleAngle": 0, "titleAlign": "center", "titleBaseline": "alphabetic",
  "titleX": 1419, "titleY": -2062, "titleFont": "Lato", "titleFontSize": 73, "titleFontWeight": "bold", "titleColor": "#000000"
 }
}
},
"layer": [
{
 "data": {"name": "vol"},
 "mark": {"type": "area", "interpolate": "linear"},
 "encoding": {
  "y": {"field": "v", "type": "quantitative", "scale": {"domain": [0, 400], "nice": false},
   "axis": {"orient": "left", "values": [10,20,30,40,60,70,80,90,110,120,130,140,160,170,180,190,210,220,230,240,260,270,280,290,310,320,330,340,360,370,380,390],
    "grid": true, "gridColor": "#EFEFEF", "gridWidth": 4, "labels": false, "ticks": false, "domain": false,
    "title": "ADVISOR", "titleAngle": 0, "titleAlign": "left", "titleBaseline": "alphabetic", "titleX": -31, "titleY": -181,
    "titleFont": "DejaVu Sans Condensed, DejaVu Sans", "titleFontSize": 48, "titleFontWeight": "bold", "titleColor": "#7B1416"}},
  "color": {"datum": "Volume", "type": "nominal",
   "scale": {"domain": ["Volume", "Close"], "range": ["#BFBFBF", "#ED7D31"]},
   "legend": {"orient": "none", "legendX": 1154, "legendY": -82, "direction": "horizontal", "title": null,
    "labelFont": "Lato", "labelFontSize": 50, "labelFontWeight": "bold", "labelColor": "#000000", "labelLimit": 0,
    "symbolSize": 8100, "columnPadding": 32, "labelOffset": 10, "padding": 0,
    "encode": {
     "symbols": {"update": {
       "shape": {"signal": "datum.label === 'Close' ? 'M-1,0H1' : 'M-1,-0.38H1V0.38H-1Z'"},
       "fill": {"signal": "datum.label === 'Close' ? 'transparent' : '#BFBFBF'"},
       "stroke": {"signal": "datum.label === 'Close' ? '#ED7D31' : 'transparent'"},
       "strokeWidth": {"value": 7}, "opacity": {"value": 1}}},
     "labels": {"update": {"fill": {"signal": "datum.label === 'Close' ? '#ED7D31' : '#000000'"}}}
    }}}
 }
},
{
 "data": {"name": "vol"},
 "transform": [{"filter": "datum.v >= 300"}],
 "mark": {"type": "point", "opacity": 0},
 "encoding": {
  "y": {"field": "v", "type": "quantitative", "scale": {"domain": [0, 400], "nice": false},
   "axis": {"orient": "left", "values": [0,50,100,150,200,250,300,350,400],
    "grid": true, "gridColor": {"condition": {"test": "datum.value === 0", "value": "transparent"}, "value": "#878787"}, "gridWidth": 3,
    "ticks": false, "domain": false, "labelFont": "Lato", "labelFontSize": 40, "labelPadding": 50, "labelColor": "#000000",
    "title": "Billions", "titleAngle": 0, "titleAlign": "left", "titleBaseline": "alphabetic", "titleX": -122, "titleY": -66,
    "titleFont": "Lato", "titleFontSize": 45, "titleFontWeight": "bold", "titleColor": "#000000"}}
 }
},
{
 "data": {"name": "close"},
 "mark": {"type": "line", "color": "#000000", "opacity": 0.13, "strokeWidth": 13, "xOffset": 6, "yOffset": 10, "strokeJoin": "round"},
 "encoding": {
  "y": {"field": "c", "type": "quantitative", "scale": {"domain": [0, 80000], "nice": false},
   "axis": {"orient": "left", "labels": false, "ticks": false, "domain": false, "grid": false,
    "title": "PERSPECTIVES", "titleAngle": 0, "titleAlign": "left", "titleBaseline": "alphabetic", "titleX": -31, "titleY": -144,
    "titleFont": "DejaVu Sans Condensed, DejaVu Sans", "titleFontSize": 48, "titleFontWeight": "normal", "titleColor": "#B8954E"}}
 }
},
{
 "data": {"name": "close"},
 "mark": {"type": "line", "strokeWidth": 8, "strokeJoin": "round"},
 "encoding": {
  "y": {"field": "c", "type": "quantitative", "scale": {"domain": [0, 80000], "nice": false},
   "axis": {"orient": "right", "values": [0,10000,20000,30000,40000,50000,60000,70000,80000],
    "labelExpr": "'$' + (datum.value / 1000)", "grid": false, "ticks": false, "domain": false,
    "labelFont": "Lato", "labelFontSize": 46, "labelPadding": 24, "labelColor": "#000000",
    "title": ["advisorperspectives.com", "Data through Jan 19"], "titleAngle": 0, "titleAlign": "left", "titleBaseline": "alphabetic",
    "titleX": -412, "titleY": -189, "titleFont": "Lato", "titleFontSize": 46, "titleFontWeight": "bold", "titleColor": "#44546A", "titleLineHeight": 62}},
  "color": {"datum": "Close", "type": "nominal"}
 }
},
{
 "data": {"name": "close"},
 "transform": [{"filter": "datum.c == 41764"}],
 "mark": {"type": "text", "align": "left", "baseline": "middle", "dx": 27, "dy": -13, "font": "Lato", "fontSize": 44, "fontWeight": "bold",
   "fill": "#FFFF00", "stroke": "#FFFF00", "strokeWidth": 12, "strokeJoin": "round", "strokeOpacity": 0.85},
 "encoding": {
  "y": {"field": "c", "type": "quantitative", "scale": {"domain": [0, 80000], "nice": false}, "axis": null},
  "text": {"field": "c", "type": "quantitative", "format": "$,.1f"}
 }
},
{
 "data": {"name": "close"},
 "transform": [{"filter": "datum.c == 41764"}],
 "mark": {"type": "text", "align": "left", "baseline": "middle", "dx": 27, "dy": -13, "font": "Lato", "fontSize": 44, "fontWeight": "bold", "fill": "#000000"},
 "encoding": {
  "y": {"field": "c", "type": "quantitative", "scale": {"domain": [0, 80000], "nice": false},
   "axis": {"orient": "left", "labels": false, "ticks": false, "domain": false, "grid": false,
    "title": "✦", "titleAngle": 0, "titleAlign": "center", "titleBaseline": "middle", "titleX": -74, "titleY": -180,
    "titleFont": "DejaVu Sans", "titleFontSize": 76, "titleFontWeight": "normal", "titleColor": "#7B1416"}},
  "text": {"field": "c", "type": "quantitative", "format": "$,.1f"}
 }
},
{
 "data": {"name": "close"},
 "transform": [{"filter": "datum.c == 41764"}],
 "mark": {"type": "point", "opacity": 0},
 "encoding": {
  "strokeDash": {"datum": "shadow", "type": "nominal",
   "legend": {"orient": "none", "legendX": 14, "legendY": -251, "title": null, "zindex": 0,
    "labelExpr": "''", "labelFontSize": 10, "labelOffset": 0, "padding": 0,
    "symbolSize": 538756, "symbolType": "M-1,-0.218H1V0.218H-1Z", "symbolStrokeWidth": 0,
    "encode": {"symbols": {"update": {
      "shape": {"value": "M-1,-0.218H1V0.218H-1Z"},
      "size": {"value": 538756},
      "fill": {"value": "rgba(0,0,0,0.16)"},
      "stroke": {"value": "transparent"},
      "strokeWidth": {"value": 0},
      "strokeDash": {"value": [1, 0]},
      "opacity": {"value": 1}}}}}}
 }
},
{
 "data": {"name": "close"},
 "transform": [{"filter": "datum.c == 41764"}],
 "mark": {"type": "point", "opacity": 0},
 "encoding": {
  "shape": {"datum": "https://www.coinmarketcap.com", "type": "nominal",
   "legend": {"orient": "none", "legendX": 6, "legendY": 28, "title": "Data Source: CoinMarketCap", "zindex": 1,
    "titleFont": "Lato", "titleFontSize": 46, "titleFontWeight": "normal", "titleColor": "#000000", "titlePadding": 12, "titleLimit": 0,
    "labelFont": "Lato", "labelFontSize": 47, "labelColor": "#000000", "labelOffset": -42, "labelLimit": 0,
    "symbolSize": 0, "symbolOpacity": 0, "symbolStrokeWidth": 0,
    "padding": 28, "fillColor": "#FFFFFF", "strokeColor": "#7F7F7F",
    "encode": {"legend": {"update": {"strokeWidth": {"value": 3}}}}}}
 }
}
],
"resolve": {"scale": {"y": "independent"}, "axis": {"y": "independent"}}
}
